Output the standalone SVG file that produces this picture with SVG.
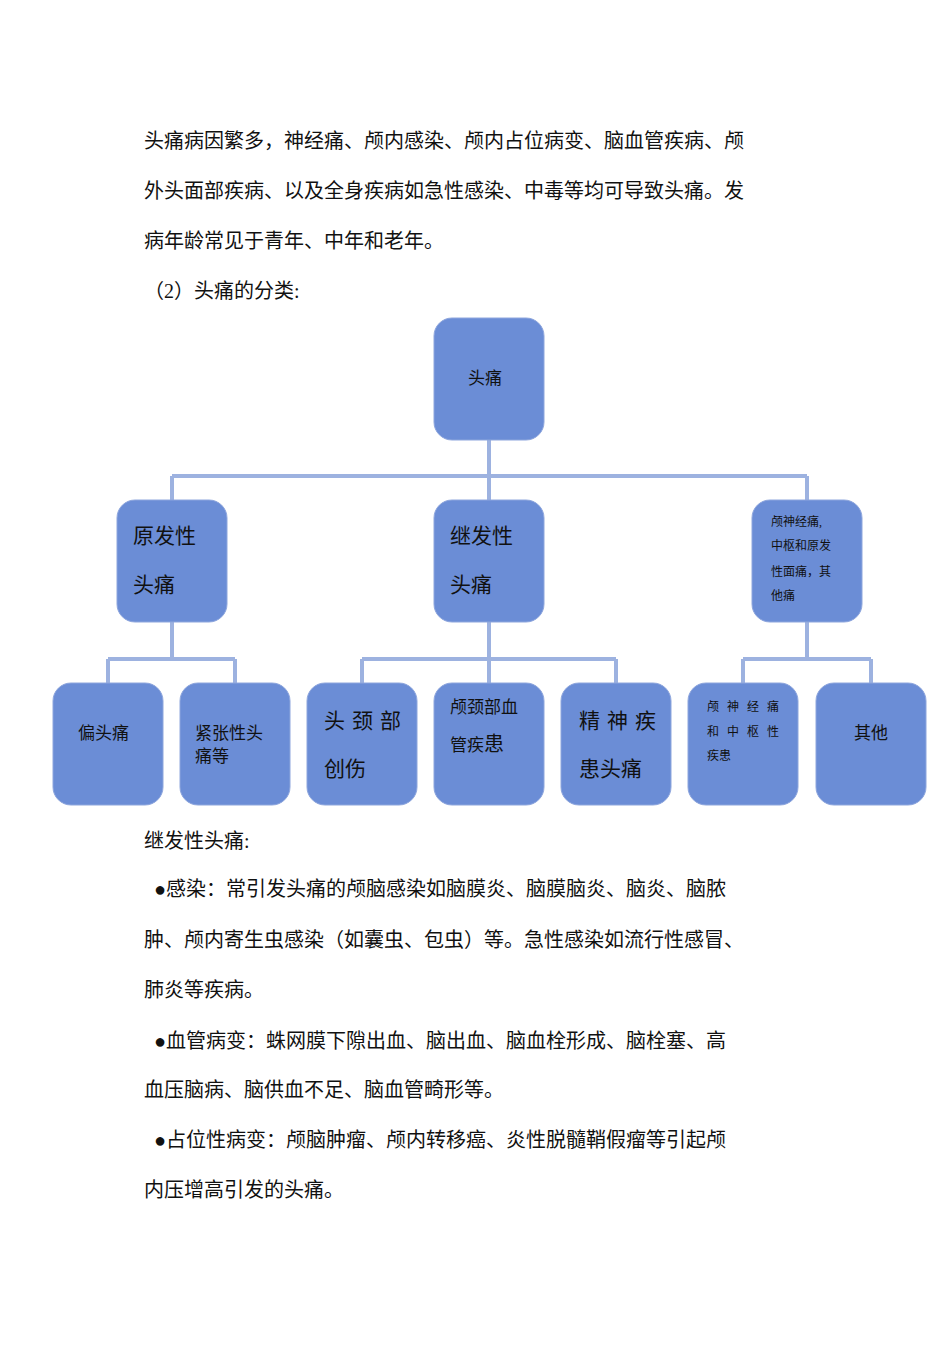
<svg xmlns="http://www.w3.org/2000/svg" width="950" height="1345" viewBox="0 0 950 1345">
<style>
text{font-family:"Liberation Serif","Noto Sans CJK SC",serif;fill:#111}
.b{font-size:20px}
.n rect{fill:#6b8dd6;stroke:#8ea6dd;stroke-width:1}
.l{font-size:21px}
.m{font-size:17px}
.s{font-size:12px}
.c{fill:none;stroke:#9db2e0;stroke-width:4}
</style>
<rect width="950" height="1345" fill="#fff"/>
<text class="b" x="144" y="148">头痛病因繁多，神经痛、颅内感染、颅内占位病变、脑血管疾病、颅</text>
<text class="b" x="144" y="198">外头面部疾病、以及全身疾病如急性感染、中毒等均可导致头痛。发</text>
<text class="b" x="144" y="248">病年龄常见于青年、中年和老年。</text>
<text class="b" x="144" y="298">（2）头痛的分类:</text>
<g id="connectors" class="c">
<path d="M489 440V476M172 476H807M172 476V500M489 476V500M807 476V500"/>
<path d="M172 622V659M108 659H235M108 659V683M235 659V683"/>
<path d="M489 622V683M362 659H616M362 659V683M616 659V683"/>
<path d="M807 622V659M743 659H871M743 659V683M871 659V683"/>
</g>
<g id="n0" class="n"><rect x="434" y="318" width="110" height="122" rx="18"/><text class="m" x="468" y="384">头痛</text></g>
<g id="n1" class="n"><rect x="117" y="500" width="110" height="122" rx="18"/><text class="l" x="133" y="543">原发性</text><text class="l" x="133" y="592">头痛</text></g>
<g id="n2" class="n"><rect x="434" y="500" width="110" height="122" rx="18"/><text class="l" x="450" y="543">继发性</text><text class="l" x="450" y="592">头痛</text></g>
<g id="n3" class="n"><rect x="752" y="500" width="110" height="122" rx="18"/><text class="s" x="771" y="526">颅神经痛,</text><text class="s" x="771" y="550">中枢和原发</text><text class="s" x="771" y="576">性面痛，其</text><text class="s" x="771" y="600">他痛</text></g>
<g id="n4" class="n"><rect x="53" y="683" width="110" height="122" rx="18"/><text class="m" x="78" y="739">偏头痛</text></g>
<g id="n5" class="n"><rect x="180" y="683" width="110" height="122" rx="18"/><text class="m" x="195" y="739">紧张性头</text><text class="m" x="195" y="762">痛等</text></g>
<g id="n6" class="n"><rect x="307" y="683" width="110" height="122" rx="18"/><text class="l" x="324" y="728" letter-spacing="7">头颈部</text><text class="l" x="324" y="776">创伤</text></g>
<g id="n7" class="n"><rect x="434" y="683" width="110" height="122" rx="18"/><text class="m" x="450" y="713">颅颈部血</text><text class="m" x="450" y="751">管疾<tspan font-size="20">患</tspan></text></g>
<g id="n8" class="n"><rect x="561" y="683" width="110" height="122" rx="18"/><text class="l" x="579" y="728" letter-spacing="7">精神疾</text><text class="l" x="579" y="776">患头痛</text></g>
<g id="n9" class="n"><rect x="688" y="683" width="110" height="122" rx="18"/><text class="s" x="707" y="711" letter-spacing="8">颅神经痛</text><text class="s" x="707" y="736" letter-spacing="8">和中枢性</text><text class="s" x="707" y="760">疾患</text></g>
<g id="n10" class="n"><rect x="816" y="683" width="110" height="122" rx="18"/><text class="m" x="854" y="739">其他</text></g>
<text class="b" x="144" y="848">继发性头痛:</text>
<text class="b" x="154" y="896">●感染：常引发头痛的颅脑感染如脑膜炎、脑膜脑炎、脑炎、脑脓</text>
<text class="b" x="144" y="947">肿、颅内寄生虫感染（如囊虫、包虫）等。急性感染如流行性感冒、</text>
<text class="b" x="144" y="997">肺炎等疾病。</text>
<text class="b" x="154" y="1048">●血管病变：蛛网膜下隙出血、脑出血、脑血栓形成、脑栓塞、高</text>
<text class="b" x="144" y="1097">血压脑病、脑供血不足、脑血管畸形等。</text>
<text class="b" x="154" y="1147">●占位性病变：颅脑肿瘤、颅内转移癌、炎性脱髓鞘假瘤等引起颅</text>
<text class="b" x="144" y="1197">内压增高引发的头痛。</text>
</svg>
